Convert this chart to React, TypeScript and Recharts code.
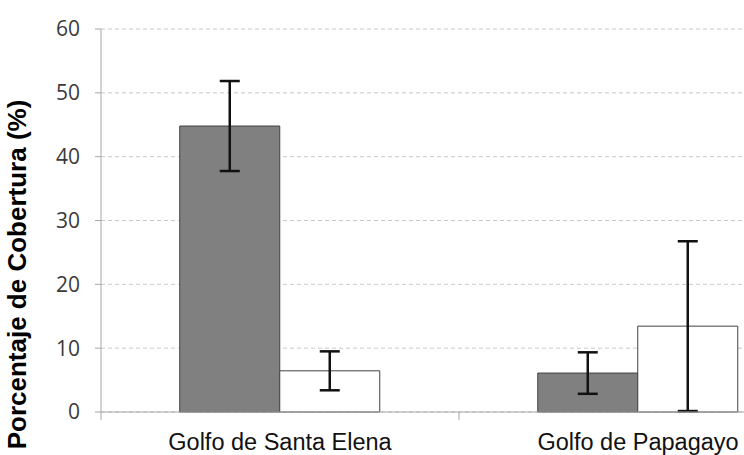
import { BarChart, Bar, XAxis, YAxis, CartesianGrid, ErrorBar } from 'recharts';

const categories = ['Golfo de Santa Elena', 'Golfo de Papagayo'];
const grayValues = [44.8, 6.1];
const grayErrors = [7.05, 3.25];
const whiteValues = [6.45, 13.45];
const whiteErrors = [3.05, 13.3];
const yTicks = [0, 10, 20, 30, 40, 50, 60];

const data = categories.map((name, i) => ({
    name,
    gray: grayValues[i],
    grayErr: grayErrors[i],
    white: whiteValues[i],
    whiteErr: whiteErrors[i],
}));

// Excel-style category tick: label centred, tick mark between categories
const CategoryTick = (props: any) => {
    const { x, y, payload } = props;
    const off = payload.offset || 0;
    return (
        <g>
            <line x1={x - off} y1={y - 8} x2={x - off} y2={y} stroke="#a6a6a6" strokeWidth={1} />
            <text x={x} y={y + 30} textAnchor="middle" fill="#111" fontSize={23.5} fontFamily="'Liberation Sans', Arial, sans-serif">
                {payload.value}
            </text>
        </g>
    );
};

export default function App() {
    return (
        <div style={{ position: 'fixed', left: 0, top: 0, width: 744, height: 455, overflow: 'hidden', background: '#fff' }}>
            <BarChart
                width={830}
                height={455}
                data={data}
                margin={{ top: 29, right: 13, bottom: 13, left: 0 }}
                barCategoryGap="22%"
                barGap={0}
            >
                <CartesianGrid vertical={false} stroke="#c8c8c8" strokeDasharray="4 3" />
                <XAxis
                    dataKey="name"
                    height={30}
                    axisLine={{ stroke: '#a6a6a6' }}
                    tickLine={false}
                    tick={<CategoryTick />}
                    interval={0}
                />
                <YAxis
                    width={101}
                    domain={[0, 60]}
                    ticks={yTicks}
                    interval={0}
                    axisLine={{ stroke: '#a6a6a6' }}
                    tickLine={{ stroke: '#a6a6a6' }}
                    tickSize={6}
                    tickMargin={15}
                    tick={{ fill: '#3a3a3a', fontSize: 21, fontFamily: "'Open Sans', sans-serif" }}
                    label={{
                        value: 'Porcentaje de Cobertura (%)',
                        angle: -90,
                        position: 'insideLeft',
                        dx: 12,
                        dy: 54,
                        style: { textAnchor: 'middle', fill: '#000', fontSize: 26, fontWeight: 'bold', fontFamily: "'Liberation Sans', Arial, sans-serif" },
                    }}
                />
                <Bar dataKey="gray" fill="#808080" stroke="#404040" strokeWidth={1} isAnimationActive={false}>
                    <ErrorBar dataKey="grayErr" width={10} stroke="#111" strokeWidth={2.5} />
                </Bar>
                <Bar dataKey="white" fill="#ffffff" stroke="#404040" strokeWidth={1} isAnimationActive={false}>
                    <ErrorBar dataKey="whiteErr" width={10} stroke="#111" strokeWidth={2.5} />
                </Bar>
            </BarChart>
        </div>
    );
}
